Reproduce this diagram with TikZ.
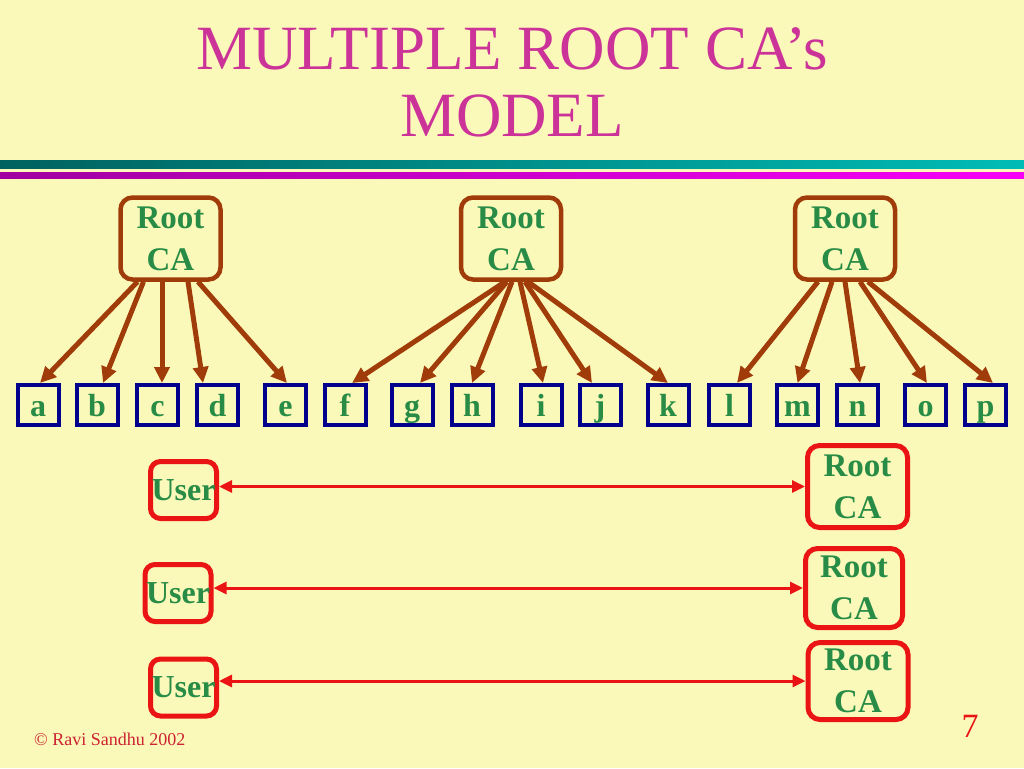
\documentclass[tikz,border=0pt]{standalone}
\usepackage{fontspec}
\setmainfont{Liberation Serif}
\usepackage{xcolor}
\usepackage{tikz}
\usetikzlibrary{arrows.meta}
\usetikzlibrary{positioning}

\definecolor{paper}{RGB}{251,249,185}
\definecolor{titlepink}{RGB}{204,51,153}
\definecolor{cagreen}{RGB}{40,140,70}
\definecolor{rootbrown}{RGB}{160,60,10}
\definecolor{leafblue}{RGB}{0,0,140}
\definecolor{linkred}{RGB}{235,20,20}
\definecolor{footred}{RGB}{204,34,51}

\begin{document}
\begin{tikzpicture}[x=1pt,y=-1pt,node distance=15pt]
 \tikzstyle{root}=[draw=rootbrown, line width=4.5pt, rounded corners=12pt, fill=paper, text=cagreen, align=center, inner sep=0pt, minimum width=100pt, minimum height=82pt, font=\fontsize{33}{42}\selectfont\bfseries]
 \tikzstyle{leaf}=[draw=leafblue, line width=4pt, fill=paper, text=cagreen, inner sep=0pt, minimum width=41pt, minimum height=40pt, text height=22pt, text depth=0pt, font=\fontsize{32}{36}\selectfont\bfseries]
 \tikzstyle{user}=[draw=linkred, line width=5pt, rounded corners=10pt, fill=paper, text=cagreen, inner sep=0pt, minimum width=66pt, minimum height=57pt, font=\fontsize{32}{36}\selectfont\bfseries]
 \tikzstyle{trust}=[root, draw=linkred, line width=5pt]
 \tikzstyle{cert}=[draw=rootbrown, line width=5pt, -{Triangle[length=16pt,width=15pt]}]
 \tikzstyle{pair}=[draw=linkred, line width=3pt, {Triangle[length=13pt,width=12pt]}-{Triangle[length=13pt,width=12pt]}]
 % page
 \fill[paper] (0,0) rectangle (1024,768);
 \useasboundingbox (0,0) rectangle (1024,768);
 \node[text=titlepink, anchor=base, font=\fontsize{63}{66}\selectfont] (T1) at (512,70) {MULTIPLE ROOT CA’s};
 \node[text=titlepink, anchor=base, font=\fontsize{63}{66}\selectfont] (T2) at (512,136) {MODEL};
 \shade[left color={rgb,255:red,0;green,98;blue,95}, right color={rgb,255:red,0;green,188;blue,182}] (0,160) rectangle (1024,168.5);
 \shade[left color={rgb,255:red,160;green,0;blue,160}, right color={rgb,255:red,248;green,0;blue,248}] (0,172) rectangle (1024,178);
 % root CAs
 \node[root] (R1) at (170.5,238.5) {Root\\CA};
 \node[root] (R2) at (511,238.5) {Root\\CA};
 \node[root] (R3) at (845,238.5) {Root\\CA};
 % leaves
 \node[leaf] (A) at (38,405) {a};
 \node[leaf] (B) [right=14pt of A] {b};
 \node[leaf] (C) [right=15.5pt of B] {c};
 \node[leaf] (D) [right=15pt of C] {d};
 \node[leaf] (E) [right=23pt of D] {e};
 \node[leaf] (F) [right=14.5pt of E] {f};
 \node[leaf] (G) [right=22pt of F] {g};
 \node[leaf] (H) [right=15pt of G] {h};
 \node[leaf] (I) [right=24pt of H] {i};
 \node[leaf] (J) [right=14pt of I] {j};
 \node[leaf] (K) [right=23pt of J] {k};
 \node[leaf] (L) [right=16.5pt of K] {l};
 \node[leaf] (M) [right=23pt of L] {m};
 \node[leaf] (N) [right=15pt of M] {n};
 \node[leaf] (O) [right=23pt of N] {o};
 \node[leaf] (P) [right=15pt of O] {p};
 \path
  ([xshift=-33pt]R1.south) edge[cert] ([xshift=2pt]A.north)
  ([xshift=-27pt]R1.south) edge[cert] ([xshift=6pt]B.north)
  ([xshift=-8.5pt]R1.south) edge[cert] ([xshift=4.5pt]C.north)
  ([xshift=17.5pt]R1.south) edge[cert] ([xshift=-14.5pt]D.north)
  ([xshift=27.5pt]R1.south) edge[cert] ([xshift=1.5pt]E.north)
  ([xshift=-6pt]R2.south) edge[cert] ([xshift=7pt]F.north)
  ([xshift=-4pt]R2.south) edge[cert] ([xshift=8pt]G.north)
  ([xshift=1pt]R2.south) edge[cert] (H.north)
  ([xshift=9pt]R2.south) edge[cert] ([xshift=2pt]I.north)
  ([xshift=14pt]R2.south) edge[cert] ([xshift=-8pt]J.north)
  ([xshift=17pt]R2.south) edge[cert] (K.north)
  ([xshift=-27pt]R3.south) edge[cert] ([xshift=7.5pt]L.north)
  ([xshift=-13pt]R3.south) edge[cert] (M.north)
  (R3.south) edge[cert] ([xshift=2.5pt]N.north)
  ([xshift=15pt]R3.south) edge[cert] ([xshift=1.5pt]O.north)
  ([xshift=23pt]R3.south) edge[cert] ([xshift=7.5pt]P.north);
 % users and their trusted roots
 \node[user] (U1) at (183.5,490) {User};
 \node[user] (U2) at (178,593) {User};
 \node[user] (U3) at (183.5,687.5) {User};
 \node[trust] (C1) at (857.5,486.5) {Root\\CA};
 \node[trust, minimum width=97pt, minimum height=79pt] (C2) at (854,588) {Root\\CA};
 \node[trust, minimum height=77pt] (C3) at (858,681) {Root\\CA};
 \path
  (C1.west -| U1.east) edge[pair] (C1.west)
  (C2.west -| U2.east) edge[pair] (C2.west)
  (C3.west -| U3.east) edge[pair] (C3.west);
 % footer
 \node[text=footred, anchor=base west, inner sep=0pt, font=\fontsize{18}{20}\selectfont] (CR) at (34,745) {© Ravi Sandhu 2002};
 \node[text=linkred, anchor=base, inner sep=0pt, font=\fontsize{34}{40}\selectfont] (PG) at (970,737) {7};
\end{tikzpicture}
\end{document}
